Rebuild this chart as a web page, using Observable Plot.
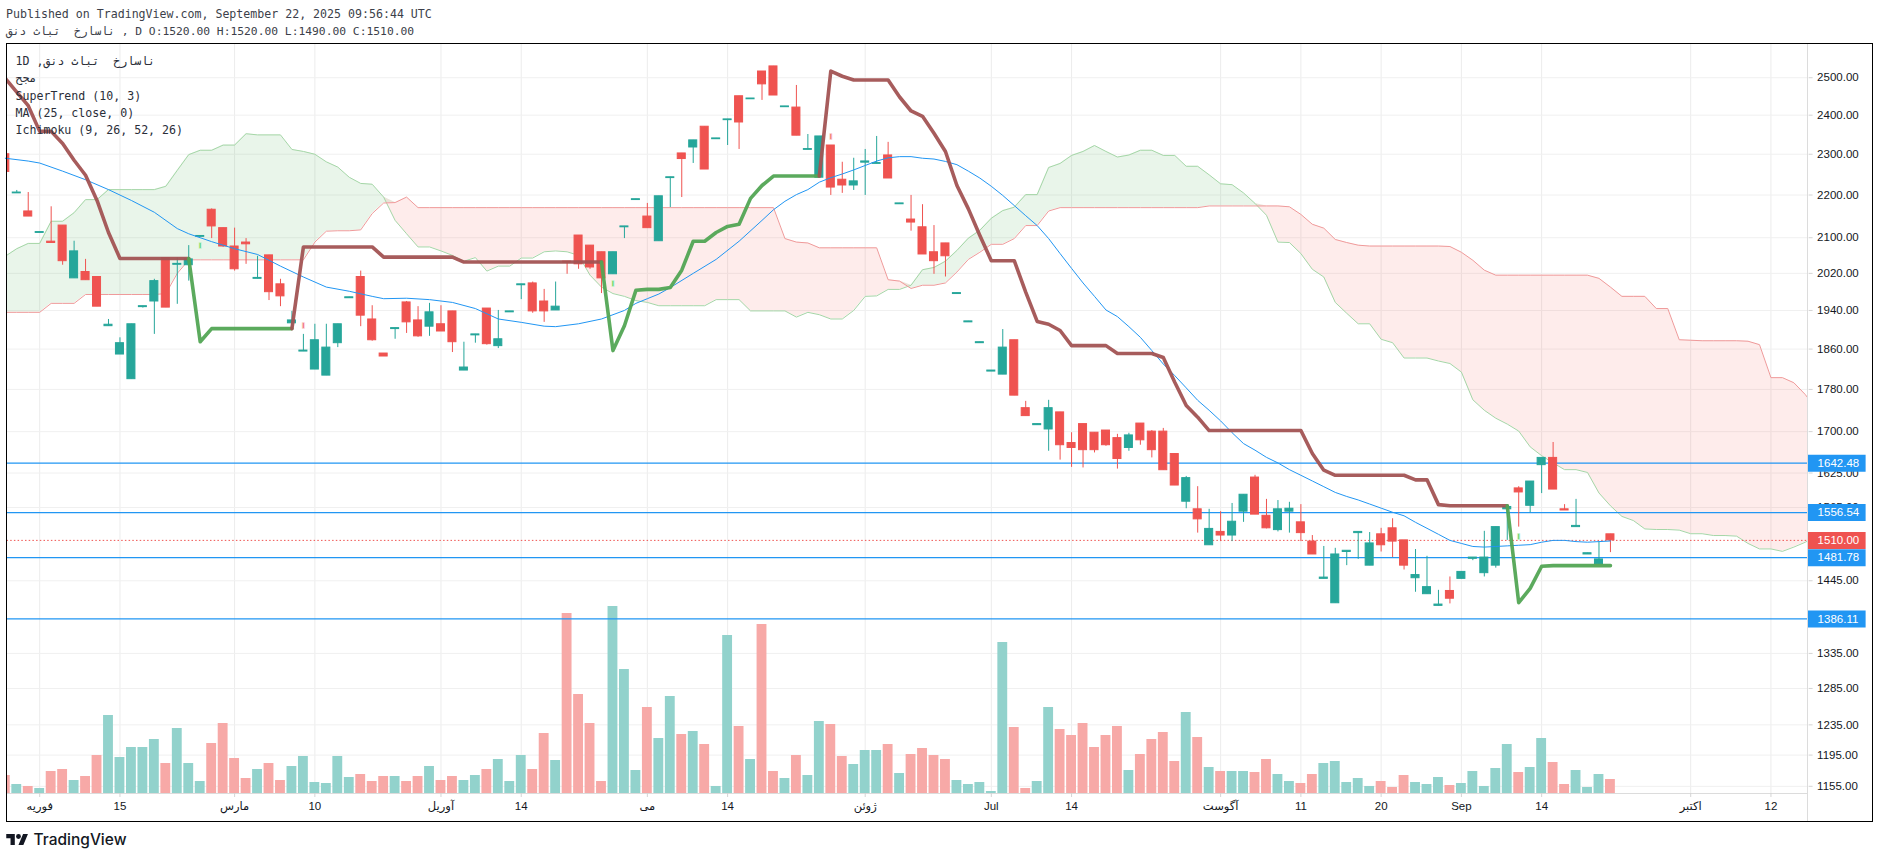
<!DOCTYPE html>
<html>
<head>
<meta charset="utf-8">
<script src="https://cdn.jsdelivr.net/npm/d3@7"></script>
<script src="https://cdn.jsdelivr.net/npm/@observablehq/plot@0.6"></script>
<style>
  html, body { margin: 0; background: white; overflow: hidden; }
  body { width: 1878px; height: 858px; position: relative; }
  .mono { position: absolute; left: 6px; font: 11.6px/17px "DejaVu Sans Mono", monospace; color: #3c3f4a; white-space: pre; }
  .ar { unicode-bidi: bidi-override; direction: ltr; }
  #chart { position: absolute; left: 0; top: 43px; width: 1878px; height: 778px; }
  #chart svg { position: absolute; left: 0; top: 0; }
  #frame { position: absolute; left: 6px; top: 43px; width: 1865px; height: 777px; border: 1.5px solid #000; pointer-events: none; }
  #divider { position: absolute; left: 1807px; top: 43px; width: 1px; height: 778px; background: #dcdcdc; }
  #logo { position: absolute; left: 6px; top: 830px; display: flex; align-items: center; gap: 5px; font: 500 15.5px Inter, sans-serif; color: #131722; }
</style>
</head>
<body>
<div class="mono" style="top:6px">Published on TradingView.com, September 22, 2025 09:56:44 UTC</div>
<div class="mono" style="top:23px;font-size:11.3px"><span class="ar">قند ثابت  خراسان</span> , D O:1520.00 H:1520.00 L:1490.00 C:1510.00</div>
<div id="chart"></div>
<div id="divider"></div>
<div id="frame"></div>
<div class="mono" style="left:15.5px;top:53px;line-height:17.3px;color:#2a2e39">1D ,<span class="ar">قند ثابت  خراسان</span>
<span class="ar">حجم</span>
SuperTrend (10, 3)
MA (25, close, 0)
Ichimoku (9, 26, 52, 26)</div>
<div id="logo"><svg width="22.5" height="11" viewBox="0 4 36 18"><path fill="#131722" d="M14 22H7V11H0V4h14v18zM28 22h-8l7.5-18h8L28 22z"/><circle fill="#131722" cx="20" cy="8" r="4"/></svg>TradingView</div>

<script>
const opens = [
  2300,2204,2161,2111,2091,2128,2009,2023,2012,1907,
  1849,1800,1947,1959,2054,2039,2038,2102,2165,2122,
  2080,2089,2008,2060,1996,1913,1855,1819,1807,1872,
  1966,2012,1921,1851,1901,1957,1919,1906,1911,1938,
  1817,1888,1944,1866,1936,1994,1998,1959,1940,2046,
  2105,2082,2067,2018,2124,2188,2149,2092,2241,2302,
  2317,2370,2338,2387,2450,2442,2517,2531,2421,2420,
  2311,2242,2322,2237,2223,2279,2276,2297,2178,2142,
  2124,2067,2087,1975,1915,1872,1815,1809,1878,1744,
  1712,1704,1736,1679,1714,1698,1702,1688,1670,1715,
  1700,1700,1659,1575,1562,1502,1524,1518,1558,1617,
  1551,1527,1558,1540,1508,1448,1410,1491,1522,1469,
  1520,1530,1510,1449,1424,1406,1429,1448,1480,1457,
  1469,1562,1598,1568,1639,1652,1562,1532,1487,1471,
  1520]
const highs = [
  2300,2211,2206,2113,2172,2128,2092,2051,2012,1921,
  1883,1911,1949,2007,2054,2054,2082,2104,2167,2122,
  2122,2098,2058,2060,2007,1938,1890,1911,1911,1911,
  1968,2025,1950,1851,1903,1959,1948,1955,1950,1938,
  1874,1890,1944,1940,1938,1996,2001,1985,2001,2046,
  2105,2082,2067,2067,2126,2190,2180,2197,2243,2302,
  2335,2370,2340,2389,2450,2444,2517,2531,2423,2479,
  2350,2345,2322,2280,2290,2312,2345,2330,2180,2199,
  2177,2128,2087,1977,1917,1874,1817,1900,1878,1757,
  1714,1759,1736,1698,1714,1698,1702,1695,1697,1715,
  1702,1706,1659,1619,1601,1562,1558,1572,1587,1621,
  1579,1577,1574,1570,1518,1500,1497,1493,1524,1523,
  1530,1546,1510,1495,1484,1430,1451,1459,1482,1525,
  1532,1569,1601,1610,1652,1680,1570,1579,1489,1507,
  1520]
const lows = [
  2256,2204,2149,2111,2087,2038,2009,2005,1948,1907,
  1849,1800,1945,1890,1946,1953,2003,2102,2098,2078,
  2025,2040,2008,1961,1948,1898,1855,1819,1807,1863,
  1966,1906,1876,1845,1880,1892,1884,1886,1896,1853,
  1817,1872,1868,1861,1936,1963,1934,1915,1940,2018,
  2029,2029,1976,2018,2098,2188,2122,2092,2170,2194,
  2277,2262,2338,2322,2312,2442,2439,2452,2421,2347,
  2311,2242,2199,2204,2211,2199,2276,2240,2178,2115,
  2062,2018,2012,1975,1915,1872,1815,1809,1768,1729,
  1712,1664,1648,1635,1634,1661,1673,1632,1664,1675,
  1652,1630,1603,1563,1522,1502,1508,1508,1540,1553,
  1529,1524,1522,1508,1487,1448,1410,1469,1479,1469,
  1491,1482,1462,1427,1424,1406,1409,1448,1477,1451,
  1465,1510,1532,1556,1589,1596,1560,1532,1487,1471,
  1490]
const closes = [
  2256,2206,2149,2113,2088,2047,2069,2005,1948,1910,
  1872,1911,1949,2003,1946,2041,2051,2104,2126,2080,
  2029,2085,2010,1979,1970,1919,1857,1878,1863,1911,
  1968,1929,1878,1845,1903,1915,1886,1936,1896,1874,
  1823,1890,1870,1880,1938,1996,1938,1938,1948,2044,
  2040,2033,2009,2067,2126,2190,2122,2197,2243,2288,
  2335,2262,2340,2389,2381,2444,2482,2452,2423,2347,
  2313,2345,2218,2223,2233,2282,2278,2240,2180,2135,
  2062,2047,2058,1977,1917,1874,1817,1863,1768,1729,
  1714,1744,1675,1670,1666,1666,1675,1650,1693,1684,
  1666,1630,1603,1616,1545,1529,1518,1541,1587,1553,
  1530,1562,1563,1522,1487,1450,1487,1493,1524,1505,
  1502,1508,1469,1454,1435,1408,1417,1459,1482,1482,
  1532,1566,1591,1610,1652,1596,1560,1534,1489,1479,
  1510]
const volumes = [
  54,27,21,15,66,72,39,51,114,234,
  108,138,138,162,90,195,90,36,150,210,
  105,45,72,90,39,81,111,33,30,111,
  48,57,36,51,51,36,51,81,39,51,
  39,54,72,102,36,114,72,180,99,540,
  297,210,36,561,372,69,258,165,291,177,
  186,147,21,474,201,102,507,66,45,114,
  54,216,207,111,87,129,129,147,60,117,
  135,114,102,39,27,33,6,453,198,15,
  36,258,192,174,210,138,174,201,69,117,
  162,183,96,243,168,78,66,66,66,63,
  102,57,36,30,57,90,96,33,45,21,
  36,18,54,33,27,48,24,30,66,21,
  75,147,63,78,165,93,27,69,18,57,
  42]

// SuperTrend, flips colour at these bars
const superTrend = [
  2498,2461,2425,2358,2358,2327,2285,2248,2187,2112,2053,2053,2053,2053,2053,2053,2053,
  1875,1902,1902,1902,1902,1902,1902,1902,1902,
  2079,2079,2079,2079,2079,2079,2079,2056,2056,2056,2056,2056,2056,2056,
  2045,2045,2045,2045,2045,2045,2045,2045,2045,2045,2045,2045,2045,
  1857,1908,1983,1985,1985,1989,2027,2092,2092,2112,2126,2131,2192,2223,2246,2246,2246,2246,2246,
  2518,2504,2494,2494,2494,2494,2448,2411,2397,2353,2307,2223,2167,2105,2048,2048,2048,1979,1917,1911,1898,
  1867,1867,1867,1867,1851,1851,1851,1851,1843,1794,1749,1727,
  1702,1702,1702,1702,1702,1702,1702,1702,1702,1660,1630,
  1621,1621,1621,1621,1621,1621,1621,1613,1613,1570,1568,1568,1568,1568,1568,1568,
  1411,1433,1468,1469,1469,1469,1469,1469,1469]
const trendFlips = [0, 16, 25, 52, 71, 131, 140]

const maBars = [0,2,3,5,7,9,11,13,15,16,18,20,22,24,26,28,30,32,33,35,37,39,41,43,45,47,48,50,52,54,55,56,57,58,60,62,64,66,67,68,69,70,71,72,73,74,75,76,77,78,79,80,81,82,83,84,85,86,87,88,89,90,91,92,93,94,95,96,97,98,99,100,101,102,103,104,105,106,107,108,109,110,111,112,113,114,115,116,117,118,119,120,121,122,123,124,125,126,127,128,129,130,131,132,133,134,135,136,137,138,139,140]
const maValues = [2290,2283,2278,2258,2237,2213,2187,2159,2121,2109,2091,2075,2062,2036,2012,1990,1981,1970,1965,1966,1963,1957,1944,1922,1915,1907,1906,1912,1922,1940,1955,1965,1975,1989,2020,2051,2092,2140,2165,2185,2201,2213,2231,2242,2251,2261,2272,2283,2291,2294,2294,2290,2288,2282,2274,2258,2241,2221,2199,2175,2151,2128,2098,2064,2031,1999,1970,1941,1927,1906,1884,1857,1830,1807,1783,1759,1740,1720,1698,1678,1666,1653,1643,1631,1621,1611,1601,1591,1584,1578,1571,1564,1557,1551,1540,1530,1520,1510,1505,1500,1499,1500,1501,1502,1503,1507,1510,1510,1508,1507,1508,1509]

// Ichimoku cloud edges, bars 0-158 (runs past the last candle)
const senkouA = [
  2058,2075,2087,2087,2138,2138,2158,2189,2189,2213,2213,2213,2213,2213,2221,2260,2299,2310,2310,2323,
  2323,2352,2349,2349,2349,2312,2307,2300,2281,2268,2243,2228,2226,2195,2140,2109,2079,2079,2070,2060,
  2047,2055,2025,2036,2036,2054,2054,2068,2070,2068,2060,2016,1990,1976,1970,1961,1957,1950,1950,1950,
  1950,1950,1963,1963,1963,1939,1939,1939,1939,1926,1936,1931,1922,1922,1940,1970,1971,1985,1985,1994,
  2028,2033,2047,2071,2099,2117,2145,2163,2171,2201,2201,2267,2277,2297,2307,2322,2307,2293,2298,2310,
  2310,2297,2297,2270,2270,2249,2227,2225,2205,2180,2152,2090,2089,2064,2029,2012,1957,1934,1912,1912,
  1880,1873,1842,1842,1842,1836,1831,1814,1760,1740,1725,1714,1701,1672,1656,1643,1631,1631,1626,1590,
  1568,1550,1543,1529,1528,1528,1527,1521,1521,1518,1518,1517,1505,1496,1496,1492,1499,1507,1517]
const senkouB = [
  1936,1936,1936,1936,1955,1955,1955,1974,1974,1974,1974,1974,1974,1974,1976,2020,2050,2050,2050,2050,
  2050,2050,2050,2050,2050,2050,2050,2090,2115,2116,2116,2118,2156,2181,2182,2195,2170,2170,2170,2170,
  2170,2170,2170,2170,2170,2170,2170,2170,2170,2170,2170,2170,2170,2170,2170,2170,2170,2170,2170,2170,
  2170,2170,2170,2170,2170,2170,2170,2170,2098,2090,2088,2077,2077,2077,2077,2077,2077,2006,2003,1987,
  1994,1994,1999,2023,2051,2067,2085,2085,2098,2128,2128,2162,2170,2170,2170,2170,2170,2170,2170,2170,
  2170,2170,2170,2170,2170,2174,2174,2174,2174,2174,2174,2174,2172,2154,2131,2122,2096,2089,2083,2081,
  2081,2081,2081,2081,2081,2081,2080,2067,2049,2027,2016,2016,2016,2016,2016,2016,2016,2016,2016,2009,
  1990,1970,1970,1970,1944,1944,1879,1878,1877,1877,1877,1877,1876,1869,1803,1803,1793,1770,1740]

const levels = [1642.48, 1556.54, 1481.78, 1386.11]
const lastClose = 1510
const signalBars = [17, 26, 53, 72, 132]
const signalPrices = [2083, 1909, 1999, 2345, 1517]
const signalUp = [true, false, true, false, true]

const yTicks = [2500,2400,2300,2200,2100,2020,1940,1860,1780,1700,1625,1565,1445,1335,1285,1235,1195,1155]
const xTickBars = [3,10,20,27,38,45,56,63,75,86,93,106,113,120,127,134,147,154]
const xTickLabels = ['فوریه','15','مارس','10','آوریل','14','می','14','ژوئن','Jul','14','آگوست','11','20','Sep','14','اکتبر','12']

const teal = '#26a69a', red = '#ef5350', blue = '#2196f3'
const xDomain = [0.148, 157.24]
const priceY = {type: 'log', domain: [1146, 2595]}
const volumeY = {domain: [0, 2250]}

const bars = d3.range(opens.length).map(i => ({
  i, open: opens[i], high: highs[i], low: lows[i], close: closes[i], volume: volumes[i],
  color: closes[i] >= opens[i] ? teal : red,
  pale: closes[i] >= opens[i] ? '#92d2cc' : '#f7a9a7',
}))
const cloud = d3.range(senkouA.length).map(i => ({i, a: senkouA[i], b: senkouB[i], top: Math.max(senkouA[i], senkouB[i])}))
const maRows = maBars.map((b, k) => ({i: b, v: maValues[k]}))
const signals = signalBars.map((b, k) => ({i: b, v: signalPrices[k], up: signalUp[k]}))

// each stretch between two flips is a separate line, brown and green in turn
const trendRows = []
for (let s = 0; s < trendFlips.length - 1; s++) {
  for (let i = trendFlips[s]; i <= trendFlips[s + 1]; i++) {
    trendRows.push({i, v: superTrend[i], seg: s, color: s % 2 ? '#52a554' : '#a25353'})
  }
}

const tags = levels.map(v => ({v, color: blue})).concat({v: lastClose, color: red})

function layer(y, marks) {
  return Plot.plot({
    width: 1878,
    height: 778,
    marginLeft: 6.5,
    marginRight: 70.4,
    marginTop: 0,
    marginBottom: 28,
    x: {domain: xDomain, axis: null},
    y: {...y, axis: null},
    style: {background: 'transparent', fontFamily: '"Liberation Sans", "DejaVu Sans", sans-serif', fontSize: '11.5px', color: '#131722'},
    marks,
  })
}

const axes = layer(priceY, [
  Plot.gridX(xTickBars, {stroke: '#ececec', strokeOpacity: 1}),
  Plot.gridY(yTicks, {stroke: '#f0f0f0', strokeOpacity: 1}),
  Plot.ruleY([1146], {stroke: '#dcdcdc'}),
  Plot.axisX(xTickBars, {
    anchor: 'bottom', tickSize: 4, tickPadding: 4, stroke: '#d4d4d4', fill: '#131722', fontSize: 11.5,
    tickFormat: d => xTickLabels[xTickBars.indexOf(d)], label: null,
  }),
  Plot.axisY(yTicks, {
    anchor: 'right', tickSize: 4, tickPadding: 5, stroke: '#d4d4d4', fill: '#131722', fontSize: 11.5,
    tickFormat: d => d.toFixed(2), label: null,
  }),
])

const volume = layer(volumeY, [
  Plot.rect(bars, {x1: d => d.i - 0.43, x2: d => d.i + 0.43, y1: 0, y2: 'volume', fill: 'pale', clip: true}),
])

const price = layer(priceY, [
  Plot.areaY(cloud, {x: 'i', y1: 'b', y2: 'top', fill: '#4caf50', fillOpacity: 0.12, clip: true}),
  Plot.areaY(cloud, {x: 'i', y1: 'a', y2: 'top', fill: '#f44336', fillOpacity: 0.1, clip: true}),
  Plot.line(cloud, {x: 'i', y: 'a', stroke: '#a5d6a7', strokeWidth: 1, clip: true}),
  Plot.line(cloud, {x: 'i', y: 'b', stroke: '#ef9a9a', strokeWidth: 1, clip: true}),
  Plot.ruleY(levels, {stroke: blue, strokeWidth: 1.2}),
  Plot.ruleY([lastClose], {stroke: red, strokeWidth: 1, strokeDasharray: '1.5,2.2'}),
  Plot.ruleX(bars, {x: 'i', y1: 'low', y2: 'high', stroke: 'color', strokeWidth: 1, clip: true}),
  Plot.rect(bars, {
    x1: d => d.i - 0.35, x2: d => d.i + 0.35, y1: 'open', y2: 'close',
    fill: 'color', stroke: 'color', strokeWidth: 1, clip: true,
  }),
  Plot.line(maRows, {x: 'i', y: 'v', stroke: blue, strokeWidth: 1}),
  Plot.line(trendRows, {x: 'i', y: 'v', z: 'seg', stroke: 'color', strokeWidth: 3.6, strokeOpacity: 0.95, strokeLinejoin: 'round', clip: true}),
  Plot.text(signals, {
    x: 'i', y: 'v', text: () => 'I', fontSize: 8,
    fill: d => d.up ? '#43c94a' : '#ef5350',
    stroke: d => d.up ? '#c4f2c6' : '#fbcfcd', strokeWidth: 2, paintOrder: 'stroke',
  }),
  Plot.ruleY(tags, {y: 'v', x1: 157.24, x2: 162.3, stroke: 'color', strokeWidth: 17}),
  Plot.text(tags, {x: 157.24, y: 'v', dx: 9.5, textAnchor: 'start', text: d => d.v.toFixed(2), fill: 'white', fontSize: 11.5}),
])

const chart = document.getElementById('chart')
chart.append(axes, volume, price)
</script>
</body>
</html>
